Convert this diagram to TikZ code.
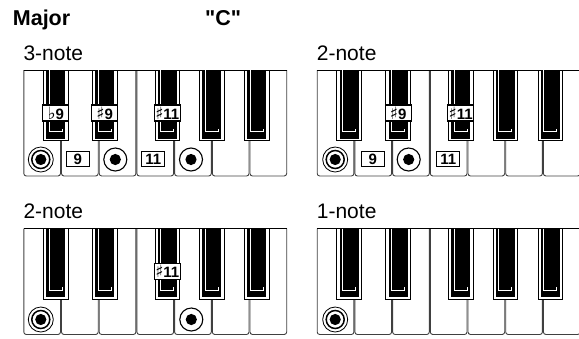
\documentclass[tikz,border=0pt]{standalone}
\usepackage{fontspec}
\setmainfont{Liberation Sans}[Ligatures=TeXOff]
\newfontfamily\symfont{DejaVu Sans}
\newcommand\flatsign{{\symfont\mdseries\fontsize{17}{17}\selectfont\char"266D}}
\newcommand\sharpsign{{\symfont\mdseries\fontsize{17}{17}\selectfont\char"266F}}
\tikzset{
  heading/.style={font=\fontsize{21.5}{21.5}\selectfont\bfseries, anchor=base west, inner sep=0pt},
  panelname/.style={font=\fontsize{21}{21}\selectfont, anchor=base west, inner sep=0pt},
  whitekey/.style={draw=black!75, line width=0.9pt, rounded corners=2.5pt},
  blackkey/.style={draw=black, fill=white, line width=0.7pt},
  notebox/.style={draw, line width=1.1pt, fill=white, inner sep=0pt, minimum height=15pt,
    font=\fontsize{15}{15}\selectfont\bfseries},
  whitenote/.style={notebox, minimum width=23pt},
  blacknote/.style={notebox, minimum width=26pt, minimum height=16pt},
  rootmark/.pic={
    \draw[line width=0.8pt] (0,0) circle[radius=12.5pt];
    \draw[line width=1.5pt] (0,0) circle[radius=9pt];
    \fill (0,0) circle[radius=5.6pt];
  },
  tonemark/.pic={
    \draw[line width=1.1pt] (0,0) circle[radius=11.5pt];
    \fill (0,0) circle[radius=5.6pt];
  }
}
% one octave of keys, top left corner at the scope origin
\newcommand\drawkeys{%
  \foreach \k in {0,...,6}
    \draw[whitekey] (\k*37.7+0.5,0) -- (\k*37.7+0.5,106) -- (\k*37.7+37.2,106) -- (\k*37.7+37.2,0);
  \draw[line width=0.9pt] (0.5,0) -- (263.4,0);
  \foreach \c in {32.4,81.4,144,188.5,233.5}{
    \draw[blackkey] (\c-12.3,0) rectangle (\c+12.3,70.5);
    \fill (\c-9.5,0) rectangle (\c+9.5,68.5);
    \draw[white, line width=0.8pt] (\c-6.8,0) -- (\c-6.8,61.5) -- (\c+6.3,61.5) -- (\c+6.3,58.5);
  }}
\begin{document}
\begin{tikzpicture}[x=1pt, y=-1pt]
  \useasboundingbox (0,0) rectangle (579,338);
  \clip (0,0) rectangle (579,338);
  \node[heading] (major) at (12.7,25) {Major};
  \node[heading] (chord) at (205,25) {"C"};
  % 3-note
  \node[panelname] (three) at (23.3,60) {3-note};
  \begin{scope}[shift={(23.3,70)}]
    \drawkeys
    \pic at (17.5,89.5) {rootmark};
    \node[whitenote] (a-nine) at (54.5,89) {9};
    \pic at (92,89.5) {tonemark};
    \node[whitenote] (a-eleven) at (130,89) {11};
    \pic at (167.7,89.5) {tonemark};
    \node[blacknote] (a-flatnine) at (32.4,43) {\flatsign9};
    \node[blacknote] (a-sharpnine) at (81.4,43) {\sharpsign9};
    \node[blacknote] (a-sharpeleven) at (144,43) {\sharpsign11};
  \end{scope}
  % 2-note, upper
  \node[panelname] (two) at (316.7,60) {2-note};
  \begin{scope}[shift={(316.7,70)}]
    \drawkeys
    \pic at (18.5,89.5) {rootmark};
    \node[whitenote] (b-nine) at (56,89) {9};
    \pic at (92,89.5) {tonemark};
    \node[whitenote] (b-eleven) at (131.5,89) {11};
    \node[blacknote] (b-sharpnine) at (81.4,43) {\sharpsign9};
    \node[blacknote] (b-sharpeleven) at (144,43) {\sharpsign11};
  \end{scope}
  % 2-note, lower
  \node[panelname] (twolow) at (23.3,218) {2-note};
  \begin{scope}[shift={(23.3,228.5)}]
    \drawkeys
    \pic at (17.5,91) {rootmark};
    \pic at (168,91) {tonemark};
    \node[blacknote] (c-sharpeleven) at (144,43) {\sharpsign11};
  \end{scope}
  % 1-note
  \node[panelname] (one) at (316.7,218) {1-note};
  \begin{scope}[shift={(316.7,228.5)}]
    \drawkeys
    \pic at (18.5,91) {rootmark};
  \end{scope}
\end{tikzpicture}
\end{document}
